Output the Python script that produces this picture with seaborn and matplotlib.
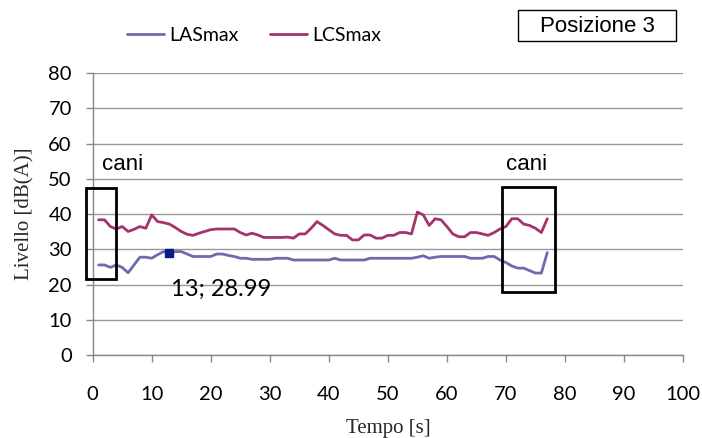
import numpy as np
import pandas as pd
import matplotlib
matplotlib.use("Agg")
import matplotlib.pyplot as plt
import seaborn as sns
from matplotlib.patches import Rectangle
from matplotlib.lines import Line2D

# time in seconds
tempo = list(range(1, 78))

las_max = [25.6, 25.6, 24.9, 25.6, 24.9, 23.4, 25.6, 27.8, 27.8, 27.5,
           28.5, 29.4, 28.99, 29.4, 29.4, 28.7, 28.0, 28.0, 28.0, 28.0,
           28.7, 28.7, 28.3, 28.0, 27.5, 27.5, 27.2, 27.2, 27.2, 27.2,
           27.5, 27.5, 27.5, 27.0, 27.0, 27.0, 27.0, 27.0, 27.0, 27.0,
           27.5, 27.0, 27.0, 27.0, 27.0, 27.0, 27.5, 27.5, 27.5, 27.5,
           27.5, 27.5, 27.5, 27.5, 27.8, 28.2, 27.5, 27.8, 28.0, 28.0,
           28.0, 28.0, 28.0, 27.5, 27.5, 27.5, 28.0, 28.0, 27.0, 26.3,
           25.3, 24.7, 24.7, 24.0, 23.3, 23.3, 29.1]

lcs_max = [38.4, 38.4, 36.5, 35.8, 36.5, 35.1, 35.7, 36.5, 36.0, 39.8,
           37.9, 37.6, 37.2, 36.2, 35.1, 34.3, 34.0, 34.6, 35.1, 35.6,
           35.8, 35.8, 35.8, 35.8, 34.8, 34.1, 34.6, 34.1, 33.4, 33.4,
           33.4, 33.4, 33.5, 33.2, 34.4, 34.4, 36.0, 37.9, 36.8, 35.6,
           34.4, 34.0, 34.0, 32.7, 32.7, 34.1, 34.1, 33.2, 33.2, 34.0,
           34.0, 34.8, 34.8, 34.4, 40.6, 39.8, 36.8, 38.7, 38.4, 36.5,
           34.4, 33.6, 33.6, 34.8, 34.8, 34.4, 34.0, 34.8, 35.8, 36.5,
           38.7, 38.7, 37.2, 36.8, 36.0, 34.8, 38.7]

df = pd.DataFrame({"Tempo": tempo * 2,
                   "Livello": las_max + lcs_max,
                   "Serie": ["LASmax"] * len(tempo) + ["LCSmax"] * len(tempo)})

sns.set_style("white")
plt.rcParams["font.family"] = ["Lato", "DejaVu Sans"]
plt.rcParams["text.color"] = "black"
plt.rcParams["xtick.color"] = "#888888"
plt.rcParams["ytick.color"] = "#888888"
plt.rcParams["xtick.labelcolor"] = "black"
plt.rcParams["ytick.labelcolor"] = "black"

fig = plt.figure(figsize=(7.02, 4.38), dpi=100)
ax = fig.add_axes([0.132, 0.189, 0.841, 0.644])

palette = {"LASmax": "#6B6BAE", "LCSmax": "#A3336D"}
sns.lineplot(data=df, x="Tempo", y="Livello", hue="Serie", palette=palette,
             linewidth=2, ax=ax, legend=False)

# highlighted point
ax.plot(13, 28.99, marker="s", color="#0A1A80", markersize=6, zorder=5)
ax.text(21.7, 18.8, "13; 28.99", ha="center", va="center", fontsize=17)

# "cani" boxes
ax.add_patch(Rectangle((-1.2, 21.7), 5.2, 25.8, fill=False, edgecolor="black",
                       linewidth=2, clip_on=False, zorder=6))
ax.add_patch(Rectangle((69.4, 17.8), 8.9, 30.0, fill=False, edgecolor="black",
                       linewidth=2, clip_on=False, zorder=6))
ax.text(5, 54, "cani", ha="center", va="center", fontsize=16, family="Liberation Sans")
ax.text(73.5, 54, "cani", ha="center", va="center", fontsize=16, family="Liberation Sans")

ax.set_xlim(0, 100)
ax.set_ylim(0, 80)
ax.set_xticks(range(0, 101, 10))
ax.set_yticks(range(0, 81, 10))
ax.tick_params(axis="both", labelsize=14.5, direction="out", length=5,
               width=1, left=True, bottom=True)
ax.tick_params(axis="x", pad=17)
ax.tick_params(axis="y", pad=10)
ax.grid(axis="y", color="#999999", linewidth=1)
ax.grid(axis="x", visible=False)
for side in ["top", "right"]:
    ax.spines[side].set_visible(False)
for side in ["left", "bottom"]:
    ax.spines[side].set_color("#888888")
    ax.spines[side].set_linewidth(1)

ax.set_xlabel("Tempo [s]", family="Liberation Serif", fontsize=15)
ax.set_ylabel("Livello [dB(A)]", family="Liberation Serif", fontsize=15)
ax.xaxis.set_label_coords(0.5, -0.225)
ax.yaxis.set_label_coords(-0.098, 0.5)

# legend
handles = [Line2D([0], [0], color=palette["LASmax"], lw=2),
           Line2D([0], [0], color=palette["LCSmax"], lw=2)]
fig.legend(handles, ["LASmax", "LCSmax"], loc="center", bbox_to_anchor=(0.362, 0.92),
           ncol=2, frameon=False, fontsize=14, handlelength=1.9, handletextpad=0.3,
           columnspacing=1.6)

# "Posizione 3" box
fig.patches.append(Rectangle((518 / 702, 1 - 41 / 438), 158 / 702, 31 / 438,
                             transform=fig.transFigure, fill=False,
                             edgecolor="black", linewidth=1))
fig.text(597 / 702, 1 - 26 / 438, "Posizione 3", ha="center", va="center",
         fontsize=16, family="Liberation Sans")

fig.savefig("out.png", dpi=100)
